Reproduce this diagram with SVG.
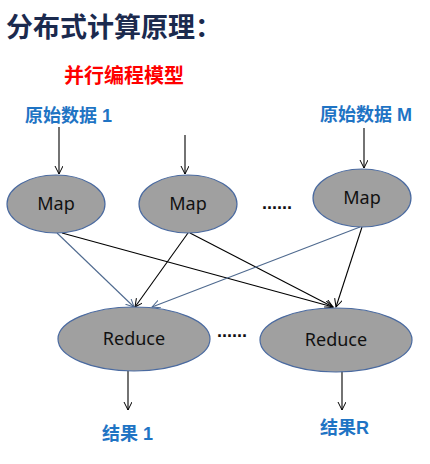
<svg xmlns="http://www.w3.org/2000/svg" width="430" height="464" viewBox="0 0 430 464">
<defs>
<marker id="ahk" markerWidth="10" markerHeight="10" refX="8" refY="4" orient="auto" markerUnits="userSpaceOnUse">
<path d="M0,0 L8,4 L0,8" fill="none" stroke="#000" stroke-width="1"/>
</marker>
<marker id="ahb" markerWidth="10" markerHeight="10" refX="8" refY="4" orient="auto" markerUnits="userSpaceOnUse">
<path d="M0,0 L8,4 L0,8" fill="none" stroke="#4f6a8f" stroke-width="1"/>
</marker>
</defs>
<style>
.cjk{font-family:"Liberation Sans","Noto Sans CJK SC",sans-serif;font-weight:bold}
.title{font-size:27px;fill:#1b2a4e}
.sub{font-size:20px;fill:#ff0000}
.lbl{font-size:18px;fill:#1f74c4}
.node ellipse{fill:#a0a0a0;stroke:#4a6aa0;stroke-width:1.2}
.node text{font-family:"Noto Sans","Open Sans",sans-serif;font-size:18px;fill:#111;text-anchor:middle}
.k{stroke:#000;stroke-width:1.1;fill:none;marker-end:url(#ahk)}
.b{stroke:#4f6a8f;stroke-width:1.1;fill:none;marker-end:url(#ahb)}
.dots{font-family:"Liberation Sans",sans-serif;font-size:18px;font-weight:bold;fill:#111}
</style>
<rect width="430" height="464" fill="#fff"/>
<text class="cjk title" x="6" y="37">分布式计算原理：</text>
<text class="cjk sub" x="64" y="83">并行编程模型</text>
<text class="cjk lbl" x="25" y="122">原始数据 1</text>
<text class="cjk lbl" x="320" y="121">原始数据 M</text>
<text class="cjk lbl" x="102" y="440">结果 1</text>
<text class="cjk lbl" x="320" y="434">结果R</text>
<g id="connectors">
<line class="k" x1="59" y1="127" x2="59" y2="174"/>
<line class="k" x1="185" y1="135" x2="185" y2="174"/>
<line class="k" x1="364" y1="128" x2="364" y2="168"/>
<line class="b" x1="57" y1="233" x2="134" y2="307"/>
<line class="k" x1="62" y1="233" x2="333" y2="307"/>
<line class="k" x1="188" y1="233" x2="135" y2="307"/>
<line class="k" x1="190" y1="233" x2="333" y2="307"/>
<line class="b" x1="360" y1="227" x2="152" y2="307"/>
<line class="k" x1="362" y1="227" x2="336" y2="307"/>
<line class="k" x1="128" y1="371" x2="128" y2="410"/>
<line class="k" x1="342" y1="371" x2="342" y2="410"/>
</g>
<g id="map1" class="node"><ellipse cx="56" cy="204" rx="49" ry="29"/><text x="56" y="210">Map</text></g>
<g id="map2" class="node"><ellipse cx="188" cy="204" rx="49" ry="29"/><text x="188" y="210">Map</text></g>
<g id="map3" class="node"><ellipse cx="362" cy="198" rx="49" ry="29"/><text x="362" y="204">Map</text></g>
<g id="reduce1" class="node"><ellipse cx="134" cy="339" rx="76" ry="32"/><text x="134" y="345">Reduce</text></g>
<g id="reduce2" class="node"><ellipse cx="336" cy="340" rx="76" ry="32"/><text x="336" y="346">Reduce</text></g>
<text class="dots" x="262" y="209">......</text>
<text class="dots" x="217" y="337">......</text>
</svg>
